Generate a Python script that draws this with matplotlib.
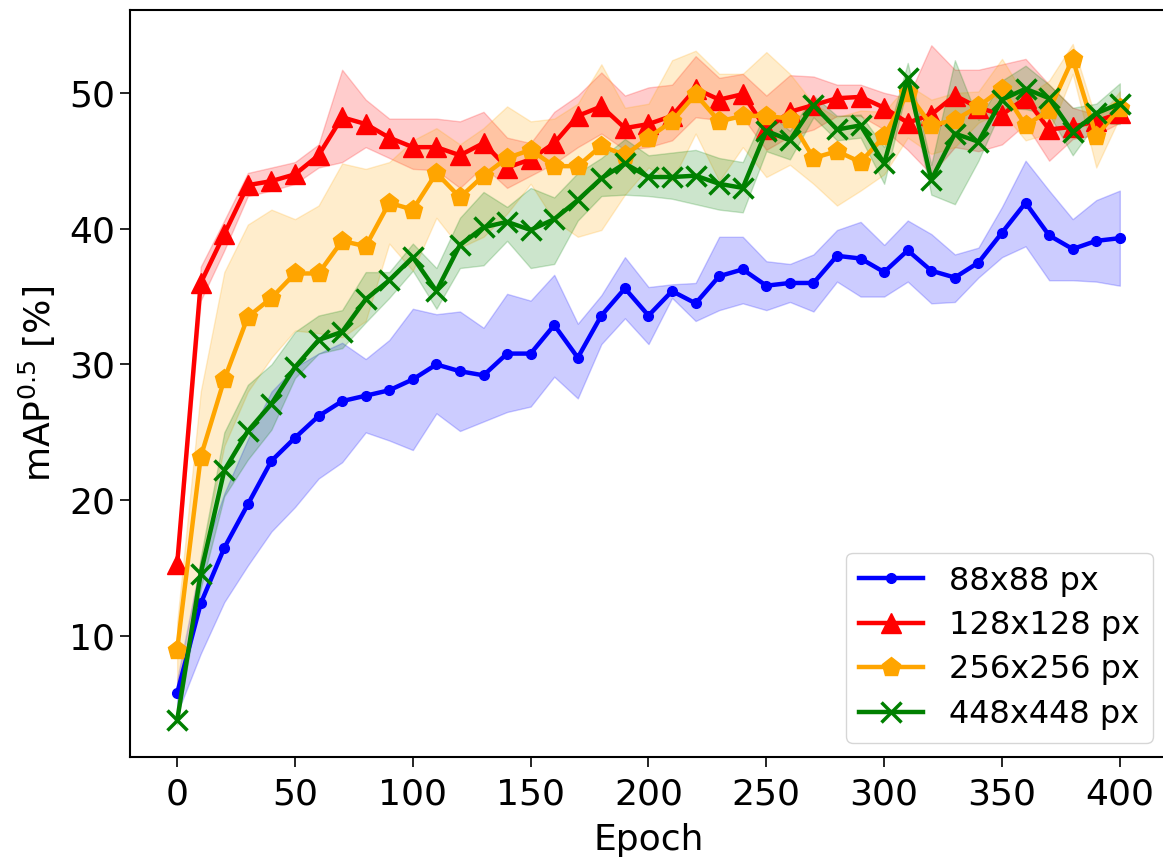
import matplotlib
matplotlib.use("Agg")
import matplotlib.pyplot as plt

epochs = [0, 10, 20, 30, 40, 50, 60, 70, 80, 90, 100, 110, 120, 130, 140, 150,
          160, 170, 180, 190, 200, 210, 220, 230, 240, 250, 260, 270, 280, 290,
          300, 310, 320, 330, 340, 350, 360, 370, 380, 390, 400]

labels = ["88x88 px", "128x128 px", "256x256 px", "448x448 px"]

blue_mean = [5.8, 12.4, 16.5, 19.7, 22.9, 24.6, 26.2, 27.3, 27.7, 28.1, 28.9, 30.0, 29.5, 29.2,
             30.8, 30.8, 32.9, 30.5, 33.6, 35.6, 33.6, 35.4, 34.5, 36.5, 37.0, 35.8, 36.0, 36.0,
             38.0, 37.8, 36.8, 38.4, 36.9, 36.4, 37.5, 39.7, 41.9, 39.5, 38.5, 39.1, 39.3]
blue_low = [4.3, 8.7, 12.5, 15.2, 17.7, 19.5, 21.6, 22.8, 25.0, 24.4, 23.7, 26.4, 25.1, 25.8,
            26.5, 26.9, 29.1, 27.5, 31.5, 33.4, 31.5, 34.9, 33.2, 34.0, 34.5, 34.0, 34.6, 33.9,
            36.1, 35.0, 35.0, 36.1, 34.5, 34.6, 36.4, 37.9, 38.7, 36.2, 36.2, 36.1, 35.8]
blue_high = [6.8, 15.5, 20.5, 24.5, 28.0, 29.8, 30.8, 31.6, 30.4, 31.8, 34.1, 33.7, 33.9, 32.7,
             35.2, 34.7, 36.6, 33.0, 35.1, 37.9, 35.7, 35.9, 36.0, 39.4, 39.4, 37.6, 37.4, 38.1,
             39.9, 40.5, 38.8, 40.6, 39.6, 38.1, 38.6, 41.6, 45.0, 42.8, 40.7, 42.1, 42.8]

red_mean = [15.3, 36.0, 39.6, 43.2, 43.5, 44.0, 45.4, 48.2, 47.7, 46.7, 46.0, 46.0, 45.4, 46.3,
            44.5, 45.1, 46.3, 48.3, 49.0, 47.4, 47.7, 48.3, 50.3, 49.5, 49.9, 47.3, 48.6, 49.1,
            49.6, 49.7, 48.9, 47.8, 48.4, 49.8, 48.9, 48.4, 49.6, 47.3, 47.5, 47.9, 48.5]
red_low = [14.6, 34.7, 38.4, 42.4, 42.8, 43.3, 44.5, 44.9, 46.0, 45.2, 44.4, 44.3, 43.0, 44.6,
           43.0, 43.9, 44.8, 46.0, 47.0, 45.8, 46.0, 46.5, 48.2, 48.0, 48.2, 45.8, 46.8, 47.3,
           48.3, 48.3, 47.3, 45.8, 44.0, 46.0, 45.7, 46.2, 47.7, 45.0, 46.6, 46.9, 47.8]
red_high = [15.8, 37.2, 40.6, 44.1, 44.5, 44.9, 46.2, 51.7, 49.5, 48.1, 48.1, 48.1, 47.9, 48.6,
            46.7, 46.3, 48.6, 49.8, 51.5, 49.8, 50.4, 50.6, 52.7, 51.1, 51.4, 49.8, 51.3, 51.2,
            50.6, 50.6, 50.0, 49.6, 53.5, 51.7, 51.7, 52.1, 52.5, 50.6, 48.9, 48.4, 49.2]

orange_mean = [9.0, 23.2, 28.9, 33.5, 34.9, 36.7, 36.7, 39.1, 38.7, 41.9, 41.4, 44.1, 42.3, 43.9,
               45.2, 45.8, 44.6, 44.6, 46.1, 45.4, 46.7, 47.9, 49.9, 47.9, 48.3, 48.3, 48.1, 45.2,
               45.7, 44.9, 46.8, 50.0, 47.6, 48.0, 49.0, 50.3, 47.6, 48.7, 52.5, 46.8, 48.9]
orange_low = [6.0, 15.5, 24.0, 28.0, 30.5, 32.5, 32.3, 32.0, 33.2, 38.9, 36.9, 40.8, 38.6, 39.4,
              41.1, 43.3, 40.6, 39.4, 39.9, 42.5, 44.5, 43.5, 47.0, 43.5, 46.0, 43.8, 44.7, 43.3,
              41.7, 42.8, 44.0, 46.7, 45.5, 46.0, 47.8, 48.6, 46.5, 47.0, 51.4, 44.5, 48.2]
orange_high = [11.0, 28.0, 36.8, 40.3, 41.4, 40.7, 41.7, 44.8, 44.4, 44.9, 46.5, 47.4, 46.2, 47.4,
               49.0, 47.9, 48.1, 49.2, 52.1, 48.9, 49.2, 52.4, 53.1, 51.4, 51.4, 53.0, 51.4, 49.2,
               48.2, 48.7, 48.6, 50.6, 49.5, 50.0, 50.1, 52.5, 49.7, 50.9, 53.6, 48.0, 50.1]

green_mean = [3.8, 14.6, 22.2, 25.1, 27.1, 29.8, 31.8, 32.4, 34.8, 36.2, 37.9, 35.4, 38.8, 40.1,
              40.5, 39.9, 40.7, 42.1, 43.7, 44.8, 43.8, 43.8, 43.9, 43.3, 43.0, 47.2, 46.5, 49.1,
              47.3, 47.6, 44.8, 51.1, 43.6, 47.0, 46.4, 49.5, 50.3, 49.6, 47.1, 48.5, 49.2]
green_low = [3.5, 13.5, 20.3, 23.0, 25.2, 29.0, 30.8, 31.2, 33.1, 34.9, 36.9, 34.1, 37.1, 37.3,
             39.1, 37.1, 37.4, 40.6, 42.4, 42.5, 42.4, 42.2, 41.8, 41.4, 41.2, 45.7, 45.1, 48.2,
             46.5, 46.7, 43.3, 50.6, 42.5, 41.8, 45.0, 48.9, 48.8, 48.4, 45.4, 47.8, 47.7]
green_high = [4.2, 15.8, 25.0, 28.5, 30.0, 32.4, 33.6, 34.0, 36.8, 36.8, 38.9, 37.1, 40.8, 42.7,
              41.6, 43.0, 42.3, 44.1, 45.2, 46.6, 45.4, 45.6, 45.8, 45.2, 44.9, 48.7, 47.2, 49.8,
              48.3, 48.4, 46.0, 52.2, 44.7, 52.4, 48.0, 50.9, 52.0, 50.6, 48.9, 49.2, 50.7]

series = [
    (blue_mean, blue_low, blue_high, "blue", "."),
    (red_mean, red_low, red_high, "red", "^"),
    (orange_mean, orange_low, orange_high, "orange", "p"),
    (green_mean, green_low, green_high, "green", "x"),
]

FS = 26
LFS = 23
fig = plt.figure(figsize=(11.63, 8.60), dpi=100)
ax = fig.add_axes([0.1118, 0.1198, 0.8916, 0.8686])

for (m, lo, hi, c, mk) in series:
    ax.fill_between(epochs, lo, hi, color=c, alpha=0.2)

for (m, lo, hi, c, mk), lab in zip(series, labels):
    ax.plot(epochs, m, color=c, marker=mk, markersize=14, linewidth=3.2,
            markeredgewidth=2.5 if mk == "x" else 1.0, label=lab)

ax.set_xlim(-20, 420)
ax.set_ylim(1.1, 56.1)
ax.set_xticks([0, 50, 100, 150, 200, 250, 300, 350, 400])
ax.set_yticks([10, 20, 30, 40, 50])
ax.tick_params(labelsize=FS, length=7, width=1.2)
ax.tick_params(axis="x", pad=8)
for s in ax.spines.values():
    s.set_linewidth(1.5)
ax.set_xlabel("Epoch", fontsize=FS, labelpad=8)
ax.set_ylabel("mAP$^{0.5}$ [%]", fontsize=FS, labelpad=8)
ax.legend(loc="lower right", fontsize=LFS, handlelength=2.0,
          labelspacing=0.42, borderaxespad=0.45)

fig.savefig("out.png", dpi=100)
